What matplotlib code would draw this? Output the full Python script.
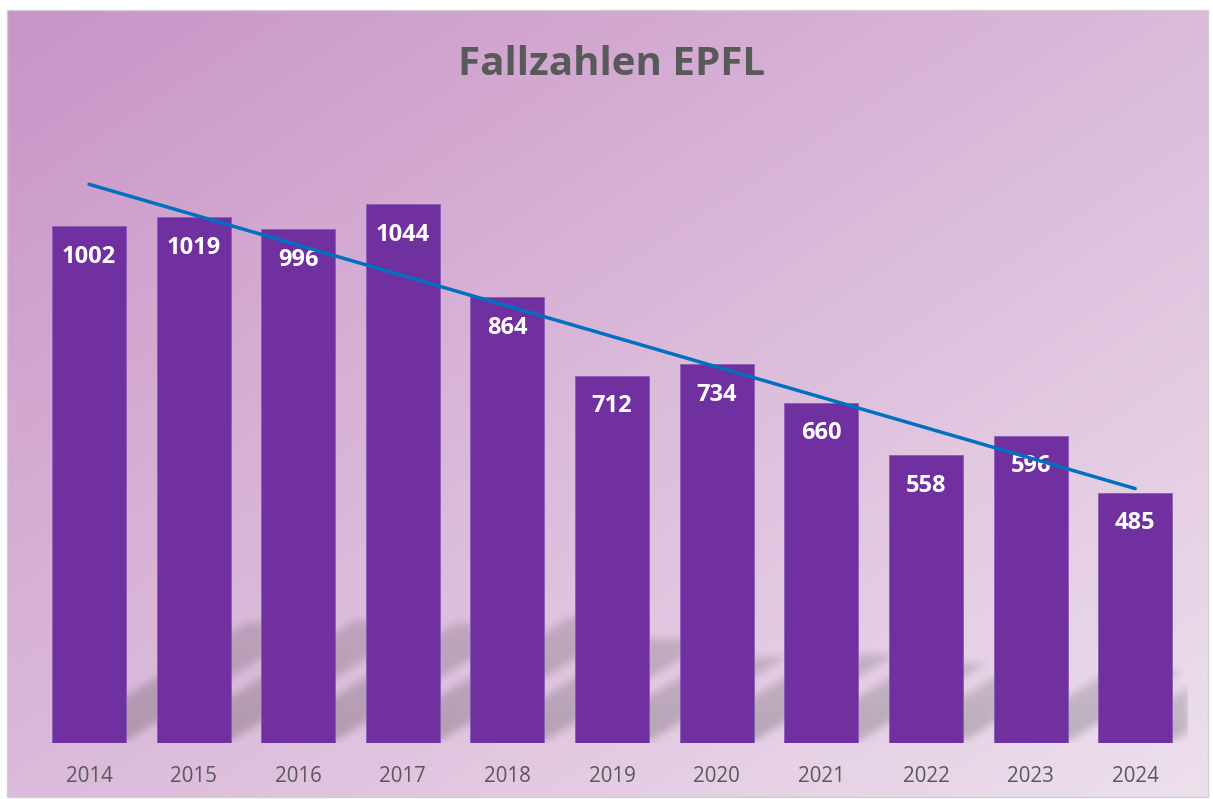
import matplotlib.pyplot as plt
import numpy as np
from matplotlib.patches import Rectangle

# Case counts per year
years = ["2014", "2015", "2016", "2017", "2018", "2019",
         "2020", "2021", "2022", "2023", "2024"]
cases = [1002, 1019, 996, 1044, 864, 712, 734, 660, 558, 596, 485]

title = "Fallzahlen EPFL"
bar_color = "#7030a0"
trend_color = "#0070c0"
text_gray = "#595959"

W, H = 1213, 799
fig = plt.figure(figsize=(W / 100, H / 100), dpi=100)

# Background: diagonal pink-purple gradient inside a light gray frame
bg = fig.add_axes([0, 0, 1, 1])
bg.set_xlim(0, W)
bg.set_ylim(H, 0)
bg.axis("off")
gx, gy = np.meshgrid(np.linspace(0, 1, 300), np.linspace(0, 1, 200))
t = (0.5 * gx + 0.5 * gy)[..., None]
c0 = np.array([201, 148, 199]) / 255
c1 = np.array([237, 224, 237]) / 255
bg.imshow(c0 + (c1 - c0) * t, extent=[7, 1208, 797, 10], aspect="auto",
          interpolation="bilinear")
bg.add_patch(Rectangle((7, 10), 1201, 787, fill=False, edgecolor="#d0d0d0", lw=1))

# Plot area
left, right, base, top = 36.7, 1187.5, 743, 124
ax = fig.add_axes([left / W, (H - base) / H, (right - left) / W, (base - top) / H])
ax.patch.set_alpha(0)
x = np.arange(len(years))
bw = 0.707

# Perspective shadow behind the bars (sheared, blurred)
px_x = (right - left) / len(years)
px_y = (base - top) / 1200
ncol, nrow = int(right - left), 170
xx = np.arange(ncol)[None, :] + 0.5
yy = np.arange(nrow)[:, None] + 0.5
mask = np.zeros((nrow, ncol))
k, off, s = 1.65, -4, 0.234
for i, v in enumerate(cases):
    x0 = (i - bw / 2 + 0.5) * px_x
    x1 = (i + bw / 2 + 0.5) * px_x
    sh = s * v * px_y
    inside = ((yy >= 3) & (yy <= sh) & (xx >= x0 + off + k * yy)
              & (xx <= x1 + off + k * yy))
    fade = 1 - 0.3 * yy / sh
    mask = np.maximum(mask, inside * fade)
sig = 4
kern = np.exp(-0.5 * (np.arange(-3 * sig, 3 * sig + 1) / sig) ** 2)
kern /= kern.sum()
mask = np.apply_along_axis(lambda r: np.convolve(r, kern, mode="same"), 1, mask)
mask = np.apply_along_axis(lambda c: np.convolve(c, kern, mode="same"), 0, mask)
rgba = np.zeros((nrow, ncol, 4))
rgba[..., :3] = 0.15
rgba[..., 3] = 0.24 * mask
ax.imshow(rgba, extent=[-0.5, len(years) - 0.5, 0, nrow / px_y], origin="lower",
          aspect="auto", interpolation="bilinear", zorder=1)
ax.set_xlim(-0.5, len(years) - 0.5)
ax.set_ylim(0, 1200)

ax.bar(x, cases, width=bw, color=bar_color, edgecolor="#8a5cb8", linewidth=0.6,
       zorder=2)

# Linear trend line
coef = np.polyfit(x, cases, 1)
ax.plot([x[0], x[-1]], np.polyval(coef, [x[0], x[-1]]), color=trend_color,
        lw=2.5, solid_capstyle="round", zorder=5)

for xi, v in zip(x, cases):
    ax.annotate(str(v), (xi, v), xytext=(0, -26.2), textcoords="offset points",
                ha="center", va="baseline", color="white", fontsize=17,
                fontweight="bold", family="Open Sans", zorder=4)
    ax.annotate(years[xi], (xi, 0), xytext=(0, -28.4), textcoords="offset points",
                ha="center", va="baseline", color=text_gray, fontsize=14.8,
                family="Open Sans", annotation_clip=False)

ax.set_xticks([])
ax.set_yticks([])
for sp in ax.spines.values():
    sp.set_visible(False)

fig.text(612 / W, 1 - 75 / H, title, ha="center", va="baseline", color=text_gray,
         fontsize=29, fontweight="bold", family="Open Sans")

fig.savefig("out.png", dpi=100)
